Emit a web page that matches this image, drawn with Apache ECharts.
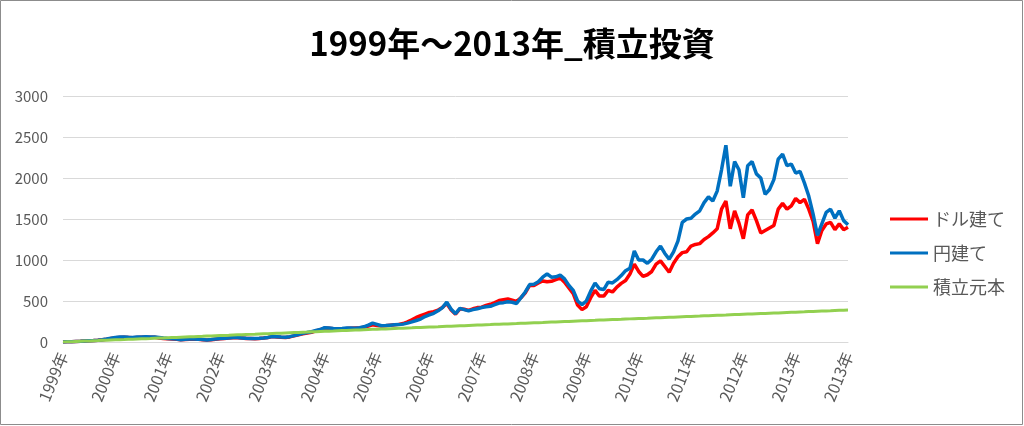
<!DOCTYPE html>
<html>
<head>
<meta charset="utf-8">
<script src="https://cdn.jsdelivr.net/npm/echarts@6/dist/echarts.min.js"></script>
<style>
html,body{margin:0;padding:0;background:#fff;}
#chart{width:1024px;height:426px;}
</style>
</head>
<body>
<div id="chart"></div>
<script>
// Tick labels shown under the x axis (one every 12 monthly points)
const tickLabels = ['1999年','2000年','2001年','2002年','2003年','2004年','2005年','2006年','2007年','2008年','2009年','2010年','2011年','2012年','2013年','2013年'];
const pointsPerTick = 12;

// ドル建て (red)
const dollarValues = [
  0,2,4,6,8,11,14,17,21,27,34,43,
  51,56,58,55,52,56,58,60,57,58,50,44,
  39,37,33,27,31,34,36,33,28,24,28,34,
  40,44,48,52,51,48,44,42,40,43,48,54,
  66,62,58,56,62,75,88,100,110,118,135,150,
  170,168,162,160,163,165,168,170,172,180,195,210,
  200,195,198,205,210,215,225,245,270,300,320,340,
  360,370,390,420,470,390,340,405,400,385,405,420,
  425,445,460,480,505,515,525,510,495,540,600,690,
  690,720,745,735,740,760,780,730,660,590,450,395,
  430,540,630,560,560,630,610,670,715,750,830,950,
  860,800,820,860,950,990,920,850,960,1040,1090,1100,
  1170,1190,1200,1250,1285,1330,1380,1620,1720,1380,1600,1450,
  1260,1550,1610,1480,1330,1360,1390,1420,1620,1690,1620,1660,
  1750,1700,1740,1620,1470,1200,1360,1440,1460,1370,1440,1370,
  1400
];

// 円建て (blue)
const yenValues = [
  0,2,4,6,8,11,14,17,22,28,36,46,
  55,60,62,58,55,60,62,64,60,62,55,48,
  42,40,35,28,33,36,38,35,30,25,30,38,
  42,46,50,55,54,50,46,44,42,45,50,56,
  68,64,60,57,65,78,92,105,115,125,140,152,
  175,170,165,162,165,170,172,168,175,185,205,230,
  215,198,200,205,210,212,218,230,245,262,280,310,
  330,350,380,420,485,400,345,410,395,380,395,405,
  420,430,435,455,475,480,490,485,470,540,610,700,
  705,735,790,830,790,795,815,770,690,630,500,455,
  500,620,720,650,640,730,720,760,810,870,900,1110,
  1000,1000,960,1010,1100,1170,1080,1010,1100,1230,1460,1500,
  1510,1560,1600,1700,1770,1720,1840,2100,2400,1900,2200,2100,
  1760,2150,2200,2050,2000,1800,1860,1980,2230,2290,2150,2170,
  2060,2080,1940,1780,1560,1300,1440,1580,1620,1510,1600,1480,
  1430
];

// 積立元本 (green)
const principalValues = [
  0,2,4,7,9,11,13,15,17,20,22,24,
  26,28,30,33,35,37,39,41,43,46,48,50,
  52,54,56,59,61,63,65,67,69,72,74,76,
  78,80,82,85,87,89,91,93,95,98,100,102,
  104,106,108,111,113,115,117,119,121,124,126,128,
  130,132,134,137,139,141,143,145,147,150,152,154,
  156,158,160,163,165,167,169,171,173,176,178,180,
  182,184,186,189,191,193,195,197,199,202,204,206,
  208,210,212,215,217,219,221,223,225,228,230,232,
  234,236,238,241,243,245,247,249,251,254,256,258,
  260,262,264,267,269,271,273,275,277,280,282,284,
  286,288,290,293,295,297,299,301,303,306,308,310,
  312,314,316,319,321,323,325,327,329,332,334,336,
  338,340,342,345,347,349,351,353,355,358,360,362,
  364,366,368,371,373,375,377,379,381,384,386,388,
  390
];

const seriesNames = ['ドル建て','円建て','積立元本'];
const categories = dollarValues.map((_, i) => String(i));

const FONT = '"Noto Sans CJK JP", "Noto Sans", sans-serif';
const chart = echarts.init(document.getElementById('chart'), null, {renderer: 'canvas'});
chart.setOption({
  animation: false,
  backgroundColor: '#ffffff',
  title: {
    text: '1999年～2013年_積立投資',
    left: 'center',
    top: 22,
    textStyle: {fontFamily: FONT, fontSize: 33, fontWeight: 'bold', color: '#000000'}
  },
  legend: {
    orient: 'vertical',
    left: 885,
    top: 205,
    icon: 'rect',
    itemWidth: 38,
    itemHeight: 3,
    itemGap: 16,
    data: seriesNames,
    textStyle: {fontFamily: FONT, fontSize: 18, color: '#595959', padding: [0, 0, 0, 0]}
  },
  grid: {left: 63, right: 176, top: 96, bottom: 84, containLabel: false},
  xAxis: {
    type: 'category',
    boundaryGap: false,
    data: categories,
    axisLine: {show: true, lineStyle: {color: '#d9d9d9', width: 1}},
    axisTick: {show: false},
    splitLine: {show: false},
    axisLabel: {
      interval: (idx) => idx % pointsPerTick === 0,
      formatter: (v, idx) => tickLabels[Math.round(Number(v) / pointsPerTick)],
      rotate: 68,
      margin: 11,
      color: '#595959',
      fontFamily: FONT,
      fontSize: 16
    }
  },
  yAxis: {
    type: 'value',
    min: 0,
    max: 3000,
    interval: 500,
    axisLine: {show: false},
    axisTick: {show: false},
    splitLine: {lineStyle: {color: '#d9d9d9', width: 1}},
    axisLabel: {color: '#595959', fontFamily: FONT, fontSize: 15, margin: 15, formatter: (v) => String(v)}
  },
  graphic: [{
    type: 'rect',
    shape: {x: 0.5, y: 0.5, width: 1022, height: 424},
    style: {fill: 'none', stroke: '#8c8c8c', lineWidth: 1},
    silent: true
  }],
  series: [
    {name: seriesNames[0], type: 'line', data: dollarValues, symbol: 'none', lineStyle: {color: '#ff0000', width: 3.5}, itemStyle: {color: '#ff0000'}},
    {name: seriesNames[1], type: 'line', data: yenValues, symbol: 'none', lineStyle: {color: '#0070c0', width: 3.5}, itemStyle: {color: '#0070c0'}},
    {name: seriesNames[2], type: 'line', data: principalValues, symbol: 'none', lineStyle: {color: '#92d050', width: 3}, itemStyle: {color: '#92d050'}}
  ]
});
</script>
</body>
</html>
